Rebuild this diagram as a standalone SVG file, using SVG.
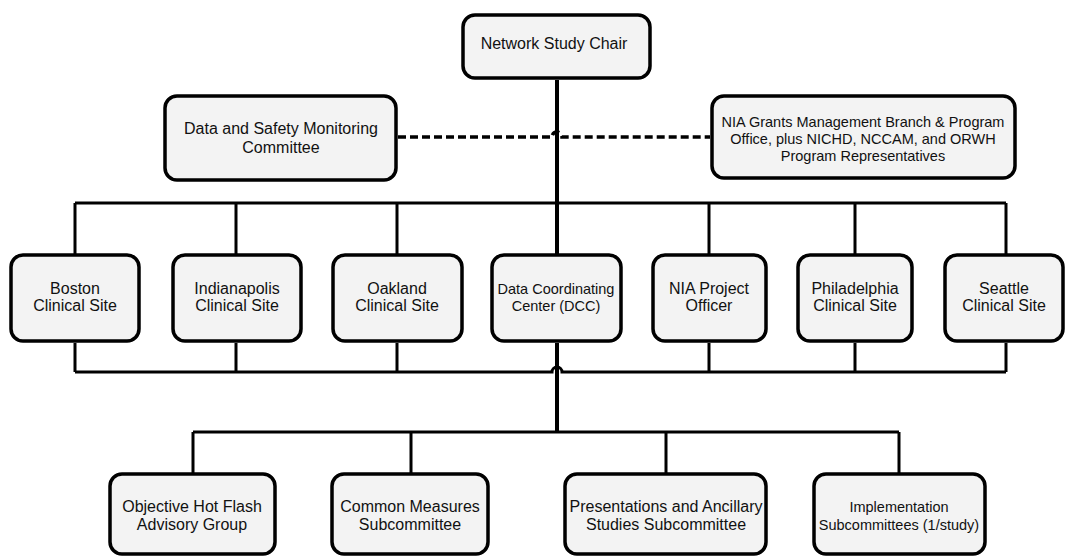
<svg xmlns="http://www.w3.org/2000/svg" width="1067" height="558" viewBox="0 0 1067 558">
<style>
.box{fill:#f3f3f3;stroke:#000;stroke-width:3.5}
.t{font-family:"Liberation Sans",Arial,Helvetica,sans-serif;font-size:16px;fill:#111;text-anchor:middle}
.s{font-size:14.5px}
.c{fill:none;stroke:#000;stroke-width:3}
.k{fill:none;stroke:#000;stroke-width:4}
.d{fill:none;stroke:#000;stroke-width:3.5;stroke-dasharray:8 4}
</style>
<rect width="1067" height="558" fill="#fff"/>
<g id="connectors">
<path class="k" d="M557 80V255M557 343V432"/>
<path class="d" d="M398 137H552A5 5 0 0 1 562 137H710"/>
<path class="c" d="M75 203H1006M75 203V255M236 203V255M397 203V255M709 203V255M855 203V255M1006 203V255"/>
<path class="c" d="M75 372H552A5 5 0 0 1 562 372H1006M75 343V372M236 343V372M397 343V372M709 343V372M855 343V372M1006 343V372"/>
<path class="c" d="M193 432H899M193 432V474M411 432V474M666 432V474M899 432V474"/>
</g>
<g id="chair"><rect class="box" x="463" y="15" width="187" height="63" rx="12"/><text class="t" x="554" y="49">Network Study Chair</text></g>
<g id="dsmc"><rect class="box" x="165" y="96" width="231" height="84" rx="12"/><text class="t" x="281" y="134">Data and Safety Monitoring</text><text class="t" x="281" y="153">Committee</text></g>
<g id="nia-grants"><rect class="box" x="712" y="96" width="303" height="82" rx="12"/><text class="t s" x="863" y="127">NIA Grants Management Branch &amp; Program</text><text class="t s" x="863" y="144">Office, plus NICHD, NCCAM, and ORWH</text><text class="t s" x="863" y="161">Program Representatives</text></g>
<g id="boston"><rect class="box" x="11" y="255" width="128" height="86" rx="12"/><text class="t" x="75" y="294">Boston</text><text class="t" x="75" y="311">Clinical Site</text></g>
<g id="indianapolis"><rect class="box" x="173" y="255" width="128" height="86" rx="12"/><text class="t" x="237" y="294">Indianapolis</text><text class="t" x="237" y="311">Clinical Site</text></g>
<g id="oakland"><rect class="box" x="333" y="255" width="129" height="86" rx="12"/><text class="t" x="397" y="294">Oakland</text><text class="t" x="397" y="311">Clinical Site</text></g>
<g id="dcc"><rect class="box" x="492" y="255" width="129" height="86" rx="12"/><text class="t s" x="556" y="294">Data Coordinating</text><text class="t s" x="556" y="311">Center (DCC)</text></g>
<g id="nia-po"><rect class="box" x="653" y="255" width="113" height="86" rx="12"/><text class="t" x="709" y="294">NIA Project</text><text class="t" x="709" y="311">Officer</text></g>
<g id="philadelphia"><rect class="box" x="798" y="255" width="114" height="86" rx="12"/><text class="t" x="855" y="294">Philadelphia</text><text class="t" x="855" y="311">Clinical Site</text></g>
<g id="seattle"><rect class="box" x="945" y="255" width="118" height="86" rx="12"/><text class="t" x="1004" y="294">Seattle</text><text class="t" x="1004" y="311">Clinical Site</text></g>
<g id="objective"><rect class="box" x="110" y="474" width="165" height="80" rx="12"/><text class="t" x="192" y="512">Objective Hot Flash</text><text class="t" x="192" y="530">Advisory Group</text></g>
<g id="common"><rect class="box" x="332" y="474" width="156" height="80" rx="12"/><text class="t" x="410" y="512">Common Measures</text><text class="t" x="410" y="530">Subcommittee</text></g>
<g id="presentations"><rect class="box" x="565" y="474" width="201" height="80" rx="12"/><text class="t" x="666" y="512">Presentations and Ancillary</text><text class="t" x="666" y="530">Studies Subcommittee</text></g>
<g id="implementation"><rect class="box" x="814" y="474" width="171" height="80" rx="12"/><text class="t s" x="899" y="512">Implementation</text><text class="t s" x="899" y="530">Subcommittees (1/study)</text></g>
</svg>
